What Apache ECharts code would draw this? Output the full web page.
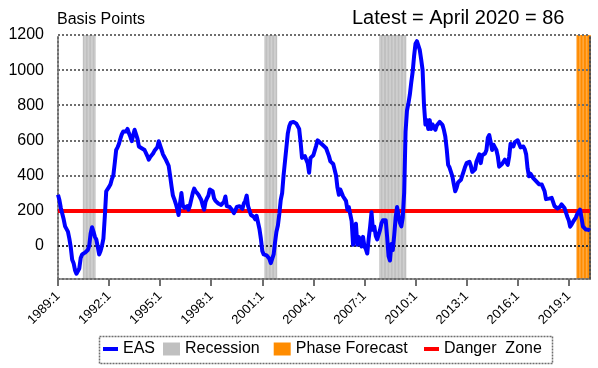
<!DOCTYPE html>
<html><head><meta charset="utf-8">
<script src="https://cdn.jsdelivr.net/npm/echarts@6/dist/echarts.min.js"></script>
<style>html,body{margin:0;padding:0;background:#fff}#c{width:598px;height:368px}</style>
</head><body><div id="c"></div>
<script>
const START_YEAR = 1989;
const START_MONTH = 1;
const EAS = [
  290, 260, 215, 205, 150, 110, 105, 80, 40, -10, -80, -100,
  -140, -160, -165, -130, -70, -50, -45, -40, -35, -25, 0, 70,
  105, 80, 50, 35, -5, -50, -30, 0, 40, 165, 310, 320,
  335, 350, 380, 400, 470, 545, 560, 580, 610, 635, 650, 645,
  650, 665, 640, 620, 595, 630, 660, 670, 610, 565, 560, 555,
  550, 545, 540, 510, 490, 505, 515, 525, 540, 535, 560, 595,
  570, 545, 520, 505, 490, 500, 455, 400, 340, 285, 265, 240,
  210, 175, 240, 300, 230, 215, 220, 225, 205, 230, 265, 300,
  325, 310, 300, 290, 275, 260, 230, 205, 250, 270, 285, 320,
  325, 310, 270, 255, 245, 240, 235, 232, 240, 250, 280, 225,
  225, 220, 212, 200, 185, 200, 220, 230, 225, 232, 210, 240,
  255, 285, 225, 200, 175, 170, 165, 150, 170, 180, 95, 40,
  -30, -50, -45, -55, -65, -75, -100, -90, -50, 20, 80, 115,
  180, 260, 300, 400, 480, 560, 640, 680, 700, 705, 705, 700,
  695, 685, 665, 590, 500, 495, 510, 490, 470, 415, 500, 505,
  515, 520, 570, 600, 595, 585, 580, 570, 565, 555, 545, 510,
  480, 470, 465, 460, 400, 330, 290, 320, 300, 280, 275, 255,
  205, 220, 180, 140, 5, 100, 125, 5, 50, 30, -5, 50,
  -5, -20, -45, 40, 108, 190, 90, 108, 55, 35, 30, 90,
  127, 145, 150, 145, 50, -60, -85, 10, -25, 60, 160, 220,
  215, 130, 110, 160, 300, 650, 770, 810, 860, 930, 990, 1080,
  1150, 1165, 1155, 1115, 1060, 1000, 800, 690, 715, 665, 715, 665,
  690, 700, 660, 685, 690, 705, 700, 688, 660, 622, 550, 460,
  445, 440, 395, 350, 310, 330, 360, 370, 375, 400, 425, 450,
  470, 480, 478, 455, 420, 415, 435, 480, 500, 520, 470, 515,
  520, 525, 545, 615, 630, 590, 545, 575, 560, 545, 510, 450,
  445, 465, 475, 490, 480, 460, 505, 580, 575, 565, 590, 600,
  600, 580, 560, 555, 565, 550, 520, 440, 395, 410, 400, 385,
  375, 368, 360, 350, 345, 348, 345, 310, 265, 262, 268, 270,
  272, 265, 225, 215, 212, 220, 222, 235, 240, 215, 190, 165,
  145, 108, 120, 135, 145, 160, 180, 190, 205, 160, 110, 100,
  92, 85, 90, 86
];
const RECESSIONS = [['1990:7', '1991:3'], ['2001:3', '2001:11'], ['2007:12', '2009:6']];
const PHASE_FORECAST = [['2019:7', '2020:4']];
const DANGER_ZONE = 200;
const Y_TICKS = [0, 200, 400, 600, 800, 1000, 1200];
const Y_MIN = -190;
const Y_MAX = 1200;
const X_LABEL_EVERY = 36;
const TITLE_LEFT = 'Basis Points';
const TITLE_RIGHT = 'Latest = April 2020 = 86';

const FONT = '"Liberation Sans", Arial, Helvetica, sans-serif';
const categories = EAS.map((_, i) => {
  const t = START_MONTH - 1 + i;
  return (START_YEAR + Math.floor(t / 12)) + ':' + (t % 12 + 1);
});
function flags(ranges) {
  const f = categories.map(() => false);
  ranges.forEach(([a, b]) => {
    const s = categories.indexOf(a), e = categories.indexOf(b);
    for (let i = s; i <= e; i++) f[i] = true;
  });
  return f;
}
const recFlag = flags(RECESSIONS);
const phaseFlag = flags(PHASE_FORECAST);

function barSeries(name, flag, color, val) {
  return {
    name, type: 'bar', data: flag.map(f => f ? val : '-'),
    barWidth: '100%', barGap: '-100%', itemStyle: { color },
    z: 1, silent: true, clip: true, animation: false
  };
}
const GRID_COLOR = '#6e6e6e';

const legendText = { color: '#000', fontSize: 16, fontFamily: FONT };
const chart = echarts.init(document.getElementById('c'), null, { renderer: 'canvas' });
chart.setOption({
  animation: false,
  backgroundColor: '#fff',
  textStyle: { fontFamily: FONT },
  grid: { left: 58, right: 8, top: 35, bottom: 89, containLabel: false, outerBoundsMode: 'none' },
  xAxis: {
    type: 'category', data: categories, boundaryGap: false, z: 2,
    axisLine: { show: true, onZero: false, lineStyle: { color: GRID_COLOR, width: 2, type: 'dotted' } },
    axisTick: { show: true, interval: (i) => i % X_LABEL_EVERY === 0, length: 7, lineStyle: { color: GRID_COLOR, width: 2 } },
    axisLabel: { interval: (i) => i % X_LABEL_EVERY === 0, rotate: 45, fontSize: 13, color: '#000', margin: 15, fontFamily: FONT },
    splitLine: { show: false }
  },
  yAxis: [{
    type: 'value', min: Y_MIN, max: Y_MAX, splitNumber: 7, z: 2,
    splitLine: { show: true, lineStyle: { color: GRID_COLOR, type: 'dotted', width: 2 } },
    axisLine: { show: true, lineStyle: { color: GRID_COLOR, width: 2, type: 'dotted' } },
    axisTick: { show: false },
    axisLabel: { customValues: Y_TICKS, formatter: (v) => String(v), color: '#000', fontSize: 16, margin: 14, fontFamily: FONT }
  }, {
    type: 'value', min: Y_MIN, max: Y_MAX, position: 'right', z: 2,
    splitLine: { show: false },
    axisLine: { show: true, onZero: false, lineStyle: { color: '#505050', width: 2, type: 'dotted' } },
    axisTick: { show: false }, axisLabel: { show: false }
  }],
  legend: [
    { data: [{ name: 'EAS', icon: 'rect' }], left: 103, top: 341, padding: 0, itemWidth: 15, itemHeight: 4,
      selectedMode: false, textStyle: legendText },
    { data: [{ name: 'Recession', icon: 'rect' }, { name: 'Phase Forecast', icon: 'rect' }], left: 163, top: 341, padding: 0,
      itemWidth: 17, itemHeight: 13, itemGap: 14, selectedMode: false, textStyle: legendText },
    { data: [{ name: 'Danger  Zone', icon: 'rect' }], left: 424, top: 341, padding: 0, itemWidth: 15, itemHeight: 4,
      selectedMode: false, textStyle: legendText }
  ],
  graphic: [
    { type: 'rect', left: 97, top: 334, shape: { width: 453, height: 27 }, silent: true,
      style: { fill: 'none', stroke: GRID_COLOR, lineWidth: 1.5, lineDash: [2, 1] } },
    { type: 'text', left: 57, top: 12, silent: true,
      style: { text: TITLE_LEFT, font: '16px ' + FONT, fill: '#000' } },
    { type: 'text', left: 352, top: 8, silent: true,
      style: { text: TITLE_RIGHT, font: '20px ' + FONT, fill: '#000' } }
  ],
  series: [
    barSeries('Recession', recFlag, '#c0c0c0', Y_MAX),
    barSeries('Recession', recFlag, '#c0c0c0', Y_MIN),
    barSeries('Phase Forecast', phaseFlag, '#ff8c00', Y_MAX),
    barSeries('Phase Forecast', phaseFlag, '#ff8c00', Y_MIN),
    {
      name: 'Danger  Zone', type: 'line', data: [], z: 3, color: '#ff0000', silent: true,
      markLine: {
        silent: true, symbol: ['none', 'none'], label: { show: false }, z: 3, animation: false,
        lineStyle: { color: '#ff0000', width: 4, type: 'solid' },
        data: [{ yAxis: 0, lineStyle: { color: '#303030', width: 2, type: 'dotted' } }, { yAxis: DANGER_ZONE }]
      }
    },
    {
      name: 'EAS', type: 'line', data: EAS, z: 4, color: '#0000ff', symbol: 'none',
      lineStyle: { color: '#0000ff', width: 4, join: 'round' }, silent: true
    }
  ]
});
</script>
</body></html>
